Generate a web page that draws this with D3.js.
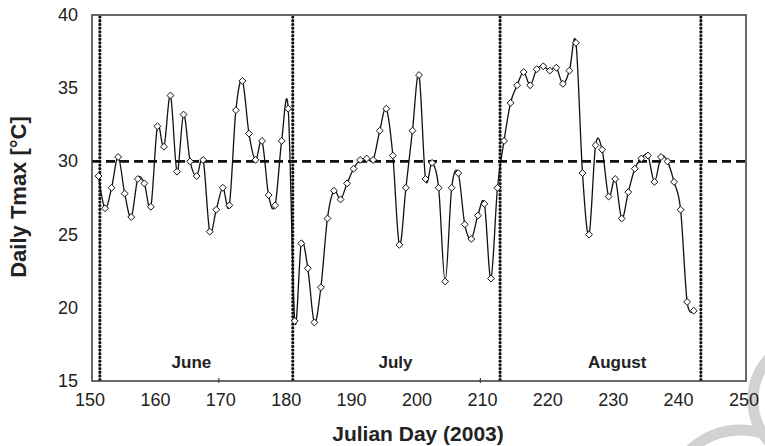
<!DOCTYPE html>
<html>
<head>
<meta charset="utf-8">
<script src="https://cdn.jsdelivr.net/npm/d3@7"></script>
<style>
  body { margin: 0; background: #fff; }
  text { font-family: "Liberation Sans", Arial, sans-serif; fill: #222; }
</style>
</head>
<body>
<svg id="chart" width="765" height="446"></svg>
<script>
// daily maximum temperature, day 151 .. 242
var days = d3.range(151, 243);
var tmax = [
  29.0, 26.8, 28.2, 30.3, 27.8, 26.2, 28.8, 28.5, 26.9, 32.4,
  31.0, 34.5, 29.3, 33.2, 30.0, 29.0, 30.1, 25.2, 26.7, 28.2,
  27.0, 33.5, 35.5, 31.9, 30.1, 31.4, 27.7, 27.0, 31.4, 33.6,
  19.1, 24.4, 22.7, 19.0, 21.4, 26.1, 28.0, 27.4, 28.5, 29.5,
  30.1, 30.2, 30.1, 32.1, 33.6, 30.4, 24.3, 28.2, 32.1, 35.9,
  28.8, 29.9, 28.2, 21.8, 28.2, 29.2, 25.7, 24.7, 26.3, 27.1,
  22.0, 28.2, 31.4, 34.0, 35.2, 36.1, 35.2, 36.3, 36.5, 36.2,
  36.4, 35.3, 36.2, 38.1, 29.2, 25.0, 31.1, 30.8, 27.6, 28.8,
  26.1, 27.9, 29.5, 30.2, 30.4, 28.6, 30.3, 30.0, 28.6, 26.7,
  20.4, 19.8
];
var xTicks = [150, 160, 170, 180, 190, 200, 210, 220, 230, 240, 250];
var yTicks = [15, 20, 25, 30, 35, 40];
var monthBounds = [151.2, 180.7, 212.4, 243.1];
var monthNames = ["June", "July", "August"];
var monthCenters = [165.2, 196.4, 230.3];
var refTemp = 30;

var svg = d3.select("#chart");
var plotL = 92, plotR = 746, plotT = 15, plotB = 381;

var x = d3.scaleLinear().domain([150, 250]).range([plotL, plotR]);
var y = d3.scaleLinear().domain([15, 40]).range([plotB, plotT]);

// watermark arcs (light grey)
svg.append("circle").attr("cx", 815).attr("cy", 400).attr("r", 62)
    .attr("fill", "none").attr("stroke", "#d2d2d2").attr("stroke-width", 11);
svg.append("circle").attr("cx", 740).attr("cy", 502).attr("r", 72)
    .attr("fill", "none").attr("stroke", "#d2d2d2").attr("stroke-width", 11);

svg.append("rect")
    .attr("x", plotL).attr("y", plotT)
    .attr("width", plotR - plotL).attr("height", plotB - plotT)
    .attr("fill", "#fff");

// month boundaries
svg.selectAll("line.month")
    .data(monthBounds)
    .enter().append("line")
    .attr("class", "month")
    .attr("x1", function(d) { return x(d); })
    .attr("x2", function(d) { return x(d); })
    .attr("y1", plotT + 2).attr("y2", plotB - 1)
    .attr("stroke", "#111")
    .attr("stroke-width", 3.2)
    .attr("stroke-linecap", "round")
    .attr("stroke-dasharray", "0.1,3.6");

// 30 degree reference
svg.append("line")
    .attr("x1", plotL).attr("x2", plotR)
    .attr("y1", y(refTemp)).attr("y2", y(refTemp))
    .attr("stroke", "#111")
    .attr("stroke-width", 2.6)
    .attr("stroke-dasharray", "9,5");

// month names
svg.selectAll("text.mname")
    .data(monthNames)
    .enter().append("text")
    .attr("class", "mname")
    .attr("x", function(d, i) { return x(monthCenters[i]); })
    .attr("y", 368)
    .attr("text-anchor", "middle")
    .style("font-size", "17px")
    .style("font-weight", "bold")
    .text(function(d) { return d; });

// series
var line = d3.line()
    .x(function(d, i) { return x(days[i]); })
    .y(function(d) { return y(d); })
    .curve(d3.curveCardinal.tension(0));

svg.append("path")
    .datum(tmax)
    .attr("d", line)
    .attr("fill", "none")
    .attr("stroke", "#111")
    .attr("stroke-width", 1.3);

svg.selectAll("path.mark")
    .data(tmax)
    .enter().append("path")
    .attr("class", "mark")
    .attr("d", d3.symbol().type(d3.symbolDiamond2).size(30))
    .attr("transform", function(d, i) { return "translate(" + x(days[i]) + "," + y(d) + ")"; })
    .attr("fill", "#fff")
    .attr("stroke", "#111")
    .attr("stroke-width", 1);

// frame
svg.append("rect")
    .attr("x", plotL).attr("y", plotT)
    .attr("width", plotR - plotL).attr("height", plotB - plotT)
    .attr("fill", "none")
    .attr("stroke", "#444")
    .attr("stroke-width", 1.6);

// the only visible tick marks
svg.selectAll("line.tick")
    .data([170, 210])
    .enter().append("line")
    .attr("x1", function(d) { return x(d) - 4; })
    .attr("x2", function(d) { return x(d) - 4; })
    .attr("y1", plotB - 3).attr("y2", plotB + 2)
    .attr("stroke", "#444").attr("stroke-width", 1.2);

// tick labels
svg.selectAll("text.xt")
    .data(xTicks)
    .enter().append("text")
    .attr("class", "xt")
    .attr("x", function(d) { return x(d) - 2; })
    .attr("y", 406)
    .attr("text-anchor", "middle")
    .style("font-size", "18px")
    .text(function(d) { return d; });

svg.selectAll("text.yt")
    .data(yTicks)
    .enter().append("text")
    .attr("class", "yt")
    .attr("x", 78)
    .attr("y", function(d) { return y(d) + 6; })
    .attr("text-anchor", "end")
    .style("font-size", "18px")
    .text(function(d) { return d; });

// titles
svg.append("text")
    .attr("x", 418).attr("y", 441)
    .attr("text-anchor", "middle")
    .style("font-size", "21px")
    .style("font-weight", "bold")
    .text("Julian Day (2003)");

svg.append("text")
    .attr("transform", "translate(26,197) rotate(-90)")
    .attr("text-anchor", "middle")
    .style("font-size", "22px")
    .style("font-weight", "bold")
    .text("Daily Tmax [°C]");
</script>
</body>
</html>
